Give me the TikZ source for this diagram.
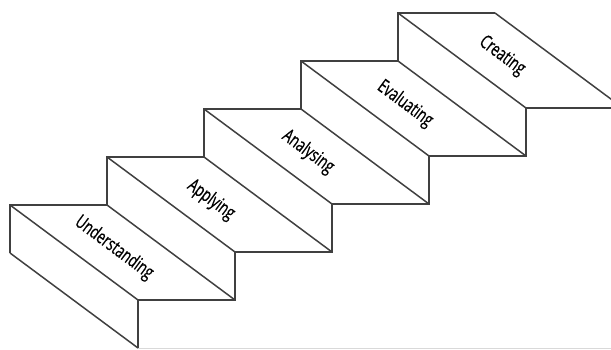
\documentclass[tikz,border=0pt]{standalone}
\usepackage{fontspec}
\setmainfont{Open Sans}[FakeStretch=0.7,FakeBold=0.6]
\usetikzlibrary{calc}
\tikzset{
  borde/.style={draw=black!75, line width=1.5pt, line join=miter},
  suelo/.style={draw=black!15, line width=1pt},
  etiqueta/.style={font=\fontsize{19}{19}\selectfont, rotate=-36.6, inner sep=0pt},
}
\begin{document}
\begin{tikzpicture}[x=1pt,y=-1pt]
  \useasboundingbox (0,0) rectangle (611,350);
  \clip (0,0) rectangle (611,350);
  % esquinas: perfil trasero (a, c) y delantero (fa, fc)
  \foreach \i in {0,...,4} {
    \coordinate (a\i) at ({10+97*\i},{205-48*\i});
    \coordinate (c\i) at ({107+97*\i},{205-48*\i});
    \coordinate (fa\i) at ($(a\i)+(128,95)$);
    \coordinate (fc\i) at ($(c\i)+(128,95)$);
  }
  \coordinate (b0) at (10,253);
  \coordinate (fb0) at ($(b0)+(128,95)$);
  % perfiles
  \draw[borde] (b0) -- (a0) -- (c0) -- (a1) -- (c1) -- (a2) -- (c2)
    -- (a3) -- (c3) -- (a4) -- (c4);
  \draw[borde] (fb0) -- (fa0) -- (fc0) -- (fa1) -- (fc1) -- (fa2) -- (fc2)
    -- (fa3) -- (fc3) -- (fa4) -- (fc4);
  % aristas en diagonal
  \foreach \p in {b0,a0,c0,a1,c1,a2,c2,a3,c3,a4,c4}
    \draw[borde] (\p) -- (f\p);
  \draw[suelo] (fb0) -- (611,348);
  % nombres de los peldanos
  \foreach \i/\texto in {0/Understanding,1/Applying,2/Analysing,3/Evaluating,4/Creating}
    \node[etiqueta] (l\i) at ($(a\i)+(104,43)$) {\texto};
\end{tikzpicture}
\end{document}
